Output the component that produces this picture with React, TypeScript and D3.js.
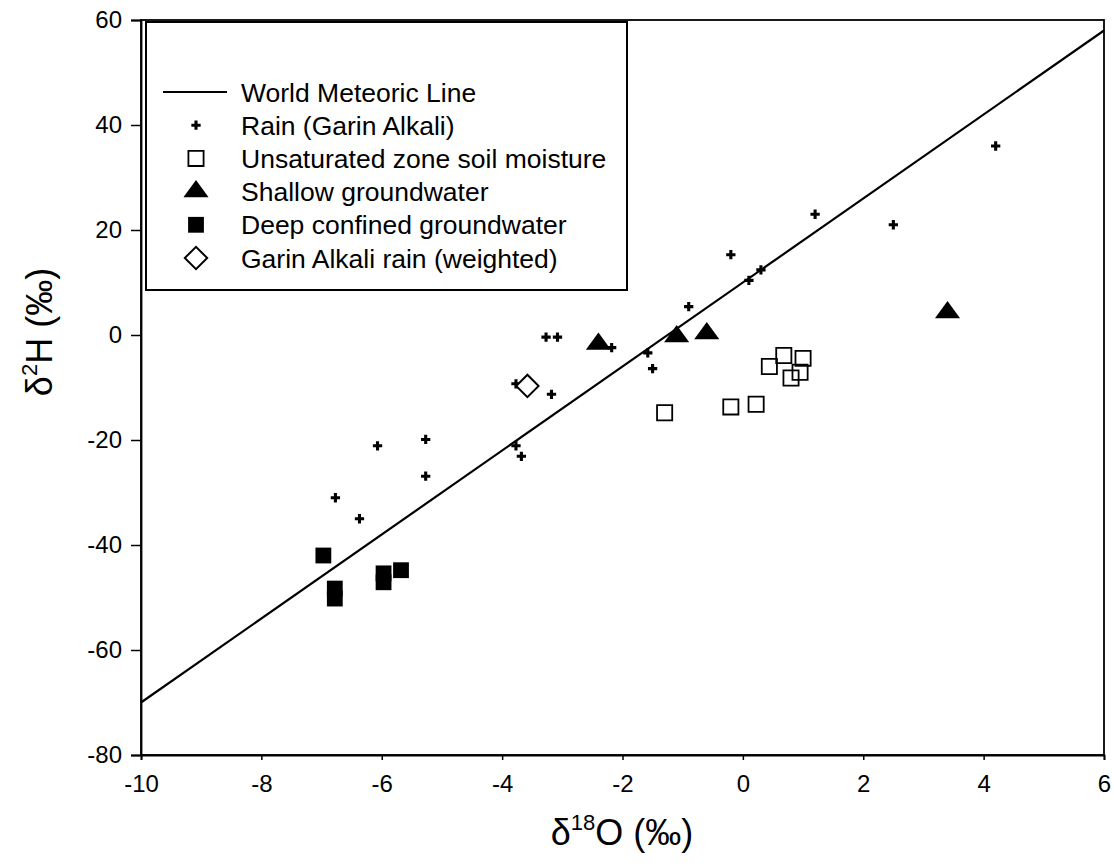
import React, { useEffect, useRef } from "react";
import * as d3 from "d3";

const xTicks = [-10, -8, -6, -4, -2, 0, 2, 4, 6];
const yTicks = [-80, -60, -40, -20, 0, 20, 40, 60];

const rainX = [4.2, 2.5, 1.2, -0.2, 0.3, 0.1, -0.9, -3.27, -3.08, -2.18, -1.58, -1.5, -3.77, -3.18, -3.77, -3.68, -6.07, -5.27, -5.27, -6.77, -6.37];
const rainY = [36, 21, 23, 15.3, 12.4, 10.4, 5.4, -0.4, -0.4, -2.4, -3.4, -6.4, -9.3, -11.3, -21.1, -23.1, -21.1, -19.9, -26.9, -31, -35];

const soilX = [0.44, 0.68, 1.0, 0.95, 0.8, -0.2, 0.22, -1.3];
const soilY = [-6, -3.9, -4.45, -7.1, -8.2, -13.7, -13.2, -14.8];

const shallowX = [-2.4, -1.1, -0.6, 3.4];
const shallowY = [-1.7, -0.3, 0.3, 4.3];

const deepX = [-6.97, -6.78, -6.78, -5.97, -5.97, -5.68];
const deepY = [-42, -48.3, -50.2, -45.4, -47.1, -44.8];

const weightedX = [-3.58];
const weightedY = [-9.7];

const wmlX = [-10, 6];
const wmlSlope = 8;
const wmlIntercept = 10;

const legendLabels = [
  "World Meteoric Line",
  "Rain (Garin Alkali)",
  "Unsaturated zone soil moisture",
  "Shallow groundwater",
  "Deep confined groundwater",
  "Garin Alkali rain (weighted)",
];

const FONT = "'Liberation Sans', Arial, Helvetica, sans-serif";

export default function App() {
  const ref = useRef<SVGSVGElement | null>(null);

  useEffect(() => {
    const svg = d3.select(ref.current);
    svg.selectAll("*").remove();

    const left = 141, right = 1104, top = 20, bottom = 755;
    const x = d3.scaleLinear().domain([-10, 6]).range([left, right]);
    const y = d3.scaleLinear().domain([-80, 60]).range([bottom, top]);

    const g = svg.append("g");

    g.append("rect")
      .attr("x", left).attr("y", top)
      .attr("width", right - left).attr("height", bottom - top)
      .attr("fill", "none").attr("stroke", "#000").attr("stroke-width", 1.8);

    const fmt = (d: any) => String(d);

    const yAxis = d3.axisLeft(y).tickValues(yTicks).tickSize(10).tickPadding(9).tickFormat(fmt);
    const ya = g.append("g").attr("transform", `translate(${left},0)`).call(yAxis);
    ya.select(".domain").attr("stroke-width", 1.8);
    ya.selectAll(".tick line").attr("stroke-width", 1.5);
    ya.selectAll(".tick text").attr("font-family", FONT).attr("font-size", 24).attr("fill", "#000");

    const xAxis = d3.axisBottom(x).tickValues(xTicks).tickSize(5).tickPadding(15).tickFormat(fmt);
    const xa = g.append("g").attr("transform", `translate(0,${bottom})`).call(xAxis);
    xa.select(".domain").attr("stroke-width", 1.8);
    xa.selectAll(".tick line").attr("stroke-width", 1.5);
    xa.selectAll(".tick text").attr("font-family", FONT).attr("font-size", 24).attr("fill", "#000");

    const line = d3.line<number>().x((d) => x(d)).y((d) => y(wmlSlope * d + wmlIntercept));
    g.append("path").attr("d", line(wmlX) || "").attr("fill", "none").attr("stroke", "#000").attr("stroke-width", 2.2);

    const cross = d3.symbol().type(d3.symbolCross).size(48);
    const sq = d3.symbol().type(d3.symbolSquare).size(250);
    const sqOpen = d3.symbol().type(d3.symbolSquare).size(230);
    const tri = d3.symbol().type(d3.symbolTriangle).size(190);
    const diamond = d3.symbol().type(d3.symbolSquare).size(250);

    const pts = (xs: number[], ys: number[]) => xs.map((v, i) => [v, ys[i]] as [number, number]);

    g.selectAll(".rain").data(pts(rainX, rainY)).enter().append("path")
      .attr("d", cross()).attr("transform", (d) => `translate(${x(d[0])},${y(d[1])})`).attr("fill", "#000");

    g.selectAll(".soil").data(pts(soilX, soilY)).enter().append("path")
      .attr("d", sqOpen()).attr("transform", (d) => `translate(${x(d[0])},${y(d[1])})`)
      .attr("fill", "none").attr("stroke", "#000").attr("stroke-width", 1.8);

    g.selectAll(".shallow").data(pts(shallowX, shallowY)).enter().append("path")
      .attr("d", tri()).attr("transform", (d) => `translate(${x(d[0])},${y(d[1])}) scale(1.2,0.95)`).attr("fill", "#000");

    g.selectAll(".deep").data(pts(deepX, deepY)).enter().append("path")
      .attr("d", sq()).attr("transform", (d) => `translate(${x(d[0])},${y(d[1])})`).attr("fill", "#000");

    g.selectAll(".weighted").data(pts(weightedX, weightedY)).enter().append("path")
      .attr("d", diamond()).attr("transform", (d) => `translate(${x(d[0])},${y(d[1])}) rotate(45)`)
      .attr("fill", "#fff").attr("stroke", "#000").attr("stroke-width", 2);

    // legend
    const lg = g.append("g");
    lg.append("rect").attr("x", 146).attr("y", 22).attr("width", 481).attr("height", 268)
      .attr("fill", "#fff").attr("stroke", "#000").attr("stroke-width", 2);
    const rowY0 = 92, rowH = 33.2, symX = 196, textX = 241;
    legendLabels.forEach((lab, i) => {
      const yy = rowY0 + i * rowH;
      lg.append("text").attr("x", textX).attr("y", yy).attr("dy", "0.36em")
        .attr("font-family", FONT).attr("font-size", 26.5).attr("fill", "#000").text(lab);
      const t = `translate(${symX},${yy})`;
      if (i === 0) {
        lg.append("line").attr("x1", 163).attr("x2", 227).attr("y1", yy).attr("y2", yy)
          .attr("stroke", "#000").attr("stroke-width", 2);
      } else if (i === 1) {
        lg.append("path").attr("d", cross()).attr("transform", t).attr("fill", "#000");
      } else if (i === 2) {
        lg.append("path").attr("d", sqOpen()).attr("transform", t).attr("fill", "none").attr("stroke", "#000").attr("stroke-width", 1.8);
      } else if (i === 3) {
        lg.append("path").attr("d", tri()).attr("transform", t + " scale(1.2,0.95)").attr("fill", "#000");
      } else if (i === 4) {
        lg.append("path").attr("d", sq()).attr("transform", t).attr("fill", "#000");
      } else {
        lg.append("path").attr("d", diamond()).attr("transform", t + " rotate(45)").attr("fill", "#fff").attr("stroke", "#000").attr("stroke-width", 2);
      }
    });

    const xt = g.append("text").attr("x", 622).attr("y", 845).attr("text-anchor", "middle")
      .attr("font-family", FONT).attr("font-size", 36).attr("fill", "#000");
    xt.append("tspan").text("δ");
    xt.append("tspan").attr("font-size", 22).attr("dy", -15).text("18");
    xt.append("tspan").attr("dy", 15).text("O (‰)");

    const yt = g.append("text").attr("transform", `translate(52,332) rotate(-90)`).attr("text-anchor", "middle")
      .attr("font-family", FONT).attr("font-size", 36).attr("fill", "#000");
    yt.append("tspan").text("δ");
    yt.append("tspan").attr("font-size", 22).attr("dy", -15).text("2");
    yt.append("tspan").attr("dy", 15).text("H (‰)");
  }, []);

  return (
    <svg ref={ref} width={1114} height={867} style={{ position: "absolute", left: 0, top: 0, background: "#fff" }} />
  );
}
